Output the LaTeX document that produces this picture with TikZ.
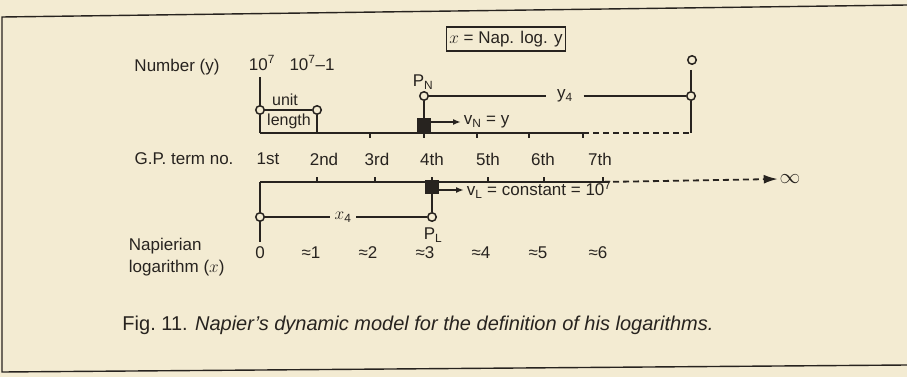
\documentclass[tikz,border=0pt]{standalone}
\usepackage{fontspec}
\setmainfont{Liberation Sans}
\usetikzlibrary{arrows.meta, calc}

\definecolor{paper}{HTML}{F3EBD2}
\definecolor{ink}{HTML}{27231F}

\begin{document}
\begin{tikzpicture}[x=1pt, y=-1pt, line width=1.8pt, draw=ink, text=ink,
  >={Latex[length=8pt, width=6pt]},
  lbl/.style={font=\fontsize{17}{19}\selectfont, inner sep=0pt},
  ring/.style={draw=ink, fill=paper, circle, minimum size=8.5pt, inner sep=0pt, line width=1.5pt},
  blk/.style={draw=ink, fill=ink, minimum width=13pt, minimum height=13pt, inner sep=0pt},
  gap/.style={dash pattern=on 6pt off 4pt}]

  \fill[paper] (0,0) rectangle (907,377);
  \useasboundingbox (0,0) rectangle (907,377);

  % frame
  \coordinate (tl) at (2,17);
  \coordinate (tr) at (907,5);
  \coordinate (bl) at (2,372);
  \coordinate (br) at (907,365);
  \draw[line width=1.4pt] (tr) -- (tl) -- (bl) -- (br);

  \node[lbl, draw=ink, line width=1.3pt, inner xsep=3pt, inner ysep=4pt] (def) at (506,39) {$x$ = Nap. log. y};

  % row labels
  \node[lbl] (num) at (177,67) {Number (y)};
  \node[lbl] (gp) at (184,159) {G.P. term no.};
  \node[lbl, align=left, anchor=west] (nap) at (128,257) {Napierian\\[3pt]logarithm ($x$)};
  \node[lbl] (y0) at (262,63) {10\textsuperscript{7}};
  \node[lbl] (y1) at (312,63) {10\textsuperscript{7}--1};

  % upper line (number y)
  \foreach \i/\x in {1/260, 2/317, 3/370, 4/424, 5/477, 6/529, 7/583}
    \coordinate (n\i) at (\x,133);
  \coordinate (nend) at (691,133);
  \draw (n1) -- (n7);
  \draw[gap] (n7) -- (nend);
  \foreach \i in {3,...,7}
    \draw[line width=1.5pt] (n\i) -- ++(0,5);

  \coordinate (ytop) at (260,77);
  \node[ring] (unitA) at (260,110) {};
  \node[ring] (unitB) at (317,110) {};
  \draw (ytop) -- (unitA);
  \draw (unitA) -- (n1);
  \draw (unitA) -- (unitB);
  \draw (unitB) -- (n2);
  \node[lbl, font=\fontsize{16}{18}\selectfont] (unit) at (285,100) {unit};
  \node[lbl, font=\fontsize{16}{18}\selectfont] (len) at (289,121) {length};

  \coordinate (rtop) at (691,70);
  \node[ring] (topO) at (692,60) {};
  \node[ring] (yend) at (691,96) {};
  \draw (rtop) -- (yend);
  \draw (yend) -- (nend);

  \node[ring] (PN) at (424,96) {};
  \node[lbl] (PNlab) at (423,82) {P\textsubscript{N}};
  \node[blk, anchor=south] (bN) at (n4) {};
  \draw (PN) -- (bN);
  \node[lbl, inner xsep=10pt] (y4) at (565,96) {y\textsubscript{4}};
  \draw (PN) -- (y4);
  \draw (y4) -- (yend);
  \node[lbl, anchor=west, inner xsep=2pt] (vN) at (461,122) {v\textsubscript{N} = y};
  \draw[->] (bN.east |- vN.west) -- (vN.west);

  % G.P. term numbers
  \foreach \i/\x/\t in {1/268/1st, 2/324/2nd, 3/377/3rd, 4/432/4th, 5/488/5th, 6/543/6th, 7/600/7th}
    \node[lbl] (g\i) at (\x,159) {\t};

  % lower line (logarithm x)
  \foreach \i/\x in {1/260, 2/317, 3/375, 4/432, 5/488, 6/544, 7/603}
    \coordinate (l\i) at (\x,182);
  \node[font=\fontsize{22}{22}\selectfont, inner sep=1pt] (inf) at (790,179) {$\infty$};
  \draw (l1) -- (l7);
  \draw[gap, -{Latex[length=14pt, width=9pt]}] (l7) -- (inf.west);
  \foreach \i in {2,...,7}
    \draw[line width=1.5pt] (l\i) -- ++(0,-5);

  \coordinate (xbot) at (260,242);
  \node[ring] (xA) at (260,217) {};
  \draw (l1) -- (xA);
  \draw (xA) -- (xbot);
  \node[ring] (PL) at (432,217) {};
  \node[lbl] (PLlab) at (433,235) {P\textsubscript{L}};
  \node[blk] (bL) at (432,187) {};
  \draw (bL) -- (PL);
  \node[lbl, inner xsep=4pt] (x4) at (343,217) {$x$\textsubscript{4}};
  \draw (xA) -- (x4);
  \draw (x4) -- (PL);
  \node[lbl, anchor=west, inner xsep=2pt] (vL) at (464,190) {v\textsubscript{L} = constant = 10\textsuperscript{7}};
  \draw[->] (bL.east |- vL.west) -- (vL.west);

  % Napierian logarithms
  \foreach \i/\x/\t in {0/260/0, 1/311/≈1, 2/368/≈2, 3/425/≈3, 4/481/≈4, 5/538/≈5, 6/598/≈6}
    \node[lbl] (lg\i) at (\x,253) {\t};

  % caption
  \node[font=\fontsize{20}{22}\selectfont, inner sep=0pt] (cap) at (418,325)
    {Fig.\ 11. \textit{Napier’s dynamic model for the definition of his logarithms.}};
\end{tikzpicture}
\end{document}
